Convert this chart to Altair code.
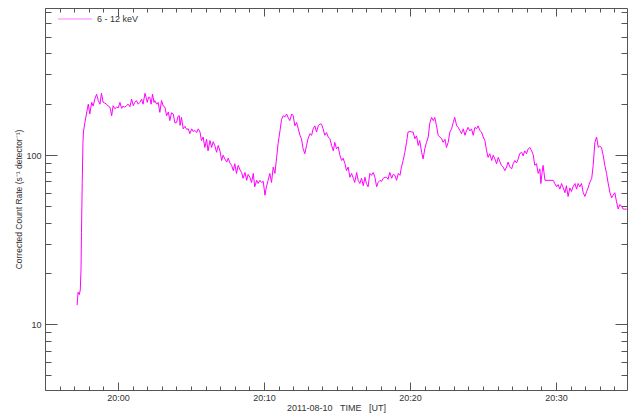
import altair as alt
import pandas as pd

# minutes after 20:00 UT on 2011-08-10
minutes = [
    -2.79, -2.72, -2.64, -2.57, -2.53, -2.49, -2.45, -2.40, -2.36, -2.26,
    -2.10, -2.03, -1.92, -1.80, -1.69, -1.58, -1.46, -1.35, -1.23, -1.12,
    -1.01, -0.89, -0.77, -0.66, -0.55, -0.43, -0.32, -0.21, -0.09, 0.02,
    0.14, 0.25, 0.36, 0.48, 0.60, 0.71, 0.82, 0.94, 1.05, 1.16,
    1.28, 1.39, 1.51, 1.62, 1.73, 1.85, 1.95, 2.01, 2.10, 2.19,
    2.28, 2.38, 2.47, 2.53, 2.65, 2.76, 2.88, 2.99, 3.10, 3.22,
    3.34, 3.45, 3.56, 3.68, 3.79, 3.90, 4.02, 4.13, 4.20, 4.25,
    4.36, 4.47, 4.59, 4.71, 4.82, 4.93, 5.05, 5.16, 5.27, 5.39,
    5.50, 5.62, 5.73, 5.84, 5.96, 6.08, 6.18, 6.30, 6.42, 6.53,
    6.64, 6.76, 6.87, 6.99, 7.10, 7.21, 7.33, 7.45, 7.55, 7.67,
    7.79, 7.90, 8.01, 8.13, 8.24, 8.36, 8.47, 8.58, 8.70, 8.82,
    8.92, 9.04, 9.16, 9.27, 9.38, 9.50, 9.61, 9.73, 9.84, 9.95,
    10.07, 10.18, 10.29, 10.41, 10.53, 10.64, 10.75, 10.87, 10.98, 11.10,
    11.21, 11.32, 11.44, 11.55, 11.66, 11.78, 11.90, 12.01, 12.12, 12.24,
    12.35, 12.47, 12.58, 12.69, 12.81, 12.92, 13.03, 13.15, 13.27, 13.38,
    13.49, 13.61, 13.72, 13.84, 13.95, 14.06, 14.18, 14.29, 14.40, 14.52,
    14.64, 14.75, 14.86, 14.98, 15.09, 15.21, 15.32, 15.43, 15.55, 15.66,
    15.77, 15.89, 16.01, 16.12, 16.23, 16.35, 16.46, 16.58, 16.69, 16.80,
    16.92, 17.03, 17.14, 17.26, 17.37, 17.49, 17.60, 17.72, 17.83, 17.95,
    18.06, 18.17, 18.29, 18.40, 18.51, 18.63, 18.75, 18.86, 18.97, 19.09,
    19.20, 19.32, 19.43, 19.54, 19.66, 19.77, 19.88, 20.00, 20.12, 20.23,
    20.34, 20.46, 20.57, 20.68, 20.80, 20.91, 21.03, 21.14, 21.25, 21.37,
    21.49, 21.60, 21.71, 21.83, 21.94, 22.05, 22.17, 22.28, 22.40, 22.51,
    22.62, 22.74, 22.86, 22.97, 23.08, 23.20, 23.31, 23.42, 23.54, 23.65,
    23.77, 23.88, 23.99, 24.11, 24.23, 24.34, 24.45, 24.57, 24.68, 24.79,
    24.91, 25.02, 25.14, 25.25, 25.36, 25.48, 25.60, 25.71, 25.82, 25.94,
    26.05, 26.16, 26.28, 26.39, 26.51, 26.62, 26.73, 26.85, 26.97, 27.08,
    27.19, 27.31, 27.42, 27.53, 27.65, 27.76, 27.88, 27.99, 28.10, 28.22,
    28.34, 28.45, 28.56, 28.68, 28.79, 28.90, 28.97, 29.06, 29.13, 29.25,
    29.82, 29.93, 30.05, 30.16, 30.27, 30.39, 30.50, 30.62, 30.73, 30.84,
    30.96, 31.07, 31.18, 31.30, 31.42, 31.53, 31.64, 31.76, 31.87, 31.99,
    32.10, 32.21, 32.33, 32.45, 32.56, 32.67, 32.79, 32.90, 33.01, 33.13,
    33.24, 33.36, 33.47, 33.58, 33.70, 33.82, 33.93, 34.04, 34.16, 34.27,
    34.38, 34.50, 34.60, 34.73, 34.86,
]

# corrected count rate, 6 - 12 keV (s^-1 detector^-1)
rate = [
    13, 15.5, 15, 16, 21, 35, 69, 119, 137, 156,
    187, 200, 175, 205, 195, 215, 229, 210, 200, 232,
    205, 203, 200, 195, 192, 171, 196, 188, 192, 190,
    205, 189, 195, 192, 197, 200, 193, 214, 196, 205,
    210, 200, 205, 214, 200, 232, 215, 205, 220, 219,
    200, 229, 205, 210, 200, 205, 179, 210, 195, 192,
    171, 180, 160, 178, 175, 155, 156, 170, 171, 150,
    167, 143, 148, 142, 143, 134, 143, 138, 140, 136,
    143, 137, 122, 128, 111, 124, 106, 122, 111, 120,
    114, 104, 114, 106, 93, 100, 95, 91, 96, 90,
    87, 81, 89, 78, 87, 82, 79, 73, 79, 71,
    77, 74, 69, 78, 65, 71, 68, 71, 69, 70,
    58, 65, 71, 78, 69, 85, 78, 97, 117, 140,
    162, 171, 168, 175, 167, 160, 175, 171, 149, 156,
    143, 131, 125, 109, 102, 114, 125, 134, 131, 143,
    149, 137, 149, 153, 152, 143, 131, 136, 128, 125,
    114, 106, 119, 109, 112, 100, 93, 96, 89, 81,
    85, 74, 78, 73, 69, 79, 71, 68, 73, 66,
    74, 68, 65, 78, 76, 79, 74, 65, 69, 71,
    70, 73, 74, 74, 72, 79, 73, 77, 76, 71,
    78, 76, 85, 93, 104, 119, 137, 138, 137, 137,
    125, 130, 114, 122, 104, 95, 109, 119, 128, 156,
    167, 160, 167, 149, 131, 128, 125, 119, 124, 111,
    119, 137, 143, 156, 167, 149, 146, 140, 134, 143,
    131, 139, 146, 139, 143, 131, 146, 143, 149, 140,
    137, 128, 122, 106, 97, 102, 93, 100, 95, 89,
    97, 92, 87, 85, 81, 85, 91, 85, 83, 89,
    93, 90, 95, 102, 104, 99, 106, 102, 109, 111,
    106, 100, 87, 89, 78, 83, 68, 79, 87, 71,
    71, 68, 65, 67, 63, 68, 64, 60, 66, 57,
    64, 61, 65, 68, 63, 68, 65, 68, 60, 57,
    61, 64, 69, 73, 87, 119, 128, 111, 113, 111,
    100, 87, 78, 69, 60, 56, 58, 60, 53, 48,
    51, 50, 48, 48, 48,
]

band = "6 - 12 keV"
date = "2011-08-10"
x_title = date + "\u00a0\u00a0\u00a0TIME\u00a0\u00a0\u00a0[UT]"
y_title = "Corrected\u00a0Count\u00a0Rate\u00a0(s\u207b\u00b9\u00a0detector\u207b\u00b9)"
major_labels = ["20:00", "20:10", "20:20", "20:30"]
y_major = [10, 100]
y_minor = [5, 6, 7, 8, 9, 20, 30, 40, 50, 60, 70, 80, 90, 200, 300, 400, 500, 600, 700]
y_range = [4.1, 740]

LINE = "#ff00ff"
FRAME = "#555555"
TEXT = "#333333"
FONT = "Liberation Sans"

df = pd.DataFrame({"minute": minutes, "rate": rate})
t = pd.Timestamp(date + " 20:00:00") + pd.to_timedelta(df["minute"] * 60, unit="s")
df["time"] = t.dt.strftime("%Y-%m-%dT%H:%M:%S")
df["band"] = band


def dt(h, m, s=0):
    return alt.DateTime(year=2011, month=8, date=10, hours=h, minutes=m, seconds=s)


x_minor = [dt(19, 55 + i) if i < 5 else dt(20, i - 5) for i in range(40)]
x_major = [dt(20, int(lbl.split(":")[1])) for lbl in major_labels]

xscale = alt.Scale(domain=[dt(19, 55), dt(20, 34, 52)])
yscale = alt.Scale(type="log", domain=y_range)

common = dict(domain=False, grid=False, tickColor=FRAME, tickWidth=1)


def xaxis(orient, size, values, labels, title=""):
    return alt.Axis(orient=orient, values=values, tickSize=size, offset=-size,
                    labels=labels, title=title, format="%H:%M",
                    labelFont=FONT, labelFontSize=9, labelColor=TEXT, labelPadding=3,
                    titleFont=FONT, titleFontSize=9, titleFontWeight="normal",
                    titleColor=TEXT, titlePadding=1, **common)


def yaxis(orient, size, values, labels, title=""):
    return alt.Axis(orient=orient, values=values, tickSize=size, offset=-size,
                    labels=labels, title=title, format="d",
                    labelFont=FONT, labelFontSize=9, labelColor=TEXT, labelPadding=4,
                    titleFont=FONT, titleFontSize=8.5, titleFontWeight="normal",
                    titleColor=TEXT, titlePadding=2, **common)


base = alt.Chart(df)

line = base.mark_line(strokeWidth=1, interpolate="linear").encode(
    x=alt.X("time:T", scale=xscale, axis=xaxis("bottom", 4, x_minor, False)),
    y=alt.Y("rate:Q", scale=yscale, axis=yaxis("left", 6, y_minor, False)),
    color=alt.Color(
        "band:N",
        scale=alt.Scale(range=[LINE]),
        title=None,
        legend=alt.Legend(orient="none", legendX=13, legendY=-6, padding=0,
                          symbolType="M-1,-0.02L1,-0.02L1,0.02L-1,0.02Z",
                          symbolSize=1150, symbolStrokeWidth=0,
                          symbolFillColor=LINE, symbolStrokeColor=LINE,
                          labelFont=FONT, labelFontSize=9, labelColor=TEXT,
                          labelOffset=5),
    ),
)

major_bl = base.mark_line(opacity=0).encode(
    x=alt.X("time:T", scale=xscale,
            axis=xaxis("bottom", 8, x_major, True, x_title)),
    y=alt.Y("rate:Q", scale=yscale,
            axis=yaxis("left", 12, y_major, True, y_title)),
)

minor_tr = base.mark_line(opacity=0).encode(
    x=alt.X("time:T", scale=xscale, axis=xaxis("top", 4, x_minor, False)),
    y=alt.Y("rate:Q", scale=yscale, axis=yaxis("right", 6, y_minor, False)),
)

major_tr = base.mark_line(opacity=0).encode(
    x=alt.X("time:T", scale=xscale, axis=xaxis("top", 8, x_major, False)),
    y=alt.Y("rate:Q", scale=yscale, axis=yaxis("right", 12, y_major, False)),
)

chart = (
    alt.layer(line, major_bl, minor_tr, major_tr)
    .resolve_axis(x="independent", y="independent")
    .properties(
        width=582,
        height=382,
        autosize=alt.AutoSizeParams(type="none"),
        padding={"left": 37, "top": 0, "right": 2, "bottom": 27},
        background="white",
    )
    .configure_view(stroke=FRAME, strokeWidth=1)
)

chart.save("out.html", embed_options={"renderer": "svg", "actions": False})
